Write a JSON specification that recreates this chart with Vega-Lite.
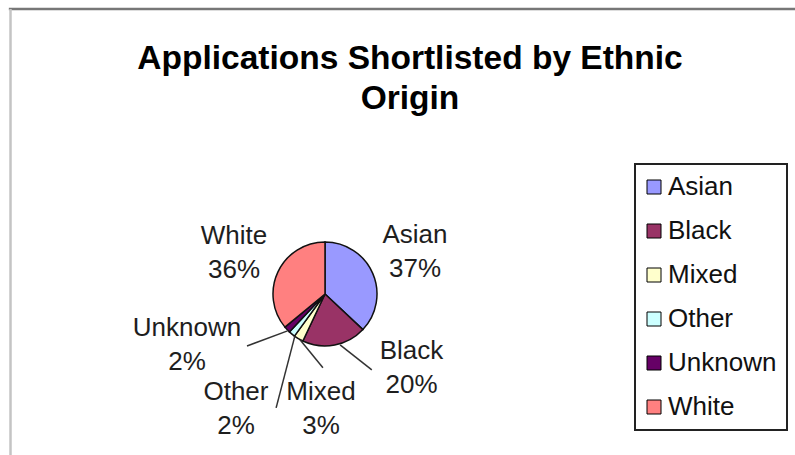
{
  "$schema": "https://vega.github.io/schema/vega-lite/v6.json",
  "autosize": "none",
  "width": 624,
  "height": 286,
  "padding": {"left": 13, "top": 151, "right": 158, "bottom": 18},
  "background": "white",
  "config": {"view": {"stroke": null}, "font": "Liberation Sans"},
  "title": {
    "text": ["Applications Shortlisted by Ethnic", "Origin"],
    "fontSize": 33.5,
    "fontWeight": "bold",
    "font": "Liberation Sans",
    "color": "#000000",
    "lineHeight": 40,
    "anchor": "middle",
    "frame": "group",
    "dx": 85,
    "offset": -109
  },
  "datasets": {
    "shares": [
      {"ethnicity": "Asian", "share": 37},
      {"ethnicity": "Black", "share": 20},
      {"ethnicity": "Mixed", "share": 3},
      {"ethnicity": "Other", "share": 2},
      {"ethnicity": "Unknown", "share": 2},
      {"ethnicity": "White", "share": 36}
    ],
    "labels": [
      {"ethnicity": "Asian", "lx": 1.731, "ly": 0.827},
      {"ethnicity": "Black", "lx": 1.663, "ly": -1.404},
      {"ethnicity": "Mixed", "lx": -0.077, "ly": -2.183},
      {"ethnicity": "Other", "lx": -1.712, "ly": -2.183},
      {"ethnicity": "Unknown", "lx": -2.654, "ly": -0.962},
      {"ethnicity": "White", "lx": -1.75, "ly": 0.808}
    ],
    "leaders": [
      {"ethnicity": "Black", "fromX": 0.29, "fromY": -0.98, "toX": 0.9, "toY": -1.46},
      {"ethnicity": "Mixed", "fromX": -0.48, "fromY": -0.88, "toX": -0.04, "toY": -1.42},
      {"ethnicity": "Other", "fromX": -0.58, "fromY": -0.81, "toX": -0.94, "toY": -2.19},
      {"ethnicity": "Unknown", "fromX": -0.72, "fromY": -0.71, "toX": -1.5, "toY": -1.0}
    ],
    "frameTop": [{"ax": -6.08, "ay": 5.481, "bx": 9.1, "by": 5.481}],
    "frameLeft": [{"ax": -6.048, "ay": 5.481, "bx": -6.048, "by": -3.2}]
  },
  "layer": [
    {
      "data": {"name": "shares"},
      "mark": {"type": "arc", "outerRadius": 52, "stroke": "#111111", "strokeWidth": 1.5},
      "encoding": {
        "theta": {"field": "share", "type": "quantitative", "stack": true},
        "order": {"field": "ethnicity", "type": "nominal"},
        "color": {
          "field": "ethnicity",
          "type": "nominal",
          "scale": {
            "domain": ["Asian", "Black", "Mixed", "Other", "Unknown", "White"],
            "range": ["#9999FF", "#993366", "#FFFFCC", "#CCFFFF", "#660066", "#FF8080"]
          },
          "legend": {
            "orient": "none",
            "legendX": 622,
            "legendY": 13,
            "title": null,
            "strokeColor": "#222222",
            "fillColor": "#ffffff",
            "padding": 10,
            "symbolType": "square",
            "symbolSize": 196,
            "symbolOffset": -4,
            "symbolStrokeColor": "#000000",
            "symbolStrokeWidth": 1,
            "symbolOpacity": 1,
            "labelFont": "Liberation Sans",
            "labelFontSize": 26,
            "labelColor": "#111111",
            "labelOffset": 1,
            "rowPadding": 18,
            "encode": {"legend": {"update": {"strokeWidth": {"value": 2}}}}
          }
        }
      }
    },
    {
      "data": {"name": "leaders"},
      "mark": {"type": "rule", "color": "#333333", "strokeWidth": 1.5, "clip": false},
      "encoding": {
        "x": {"field": "fromX", "type": "quantitative", "scale": {"domain": [-6, 6], "nice": false, "zero": false}, "axis": null},
        "y": {"field": "fromY", "type": "quantitative", "scale": {"domain": [-2.75, 2.75], "nice": false, "zero": false}, "axis": null},
        "x2": {"field": "toX"},
        "y2": {"field": "toY"}
      }
    },
    {
      "data": {"name": "labels"},
      "transform": [
        {"lookup": "ethnicity", "from": {"data": {"name": "shares"}, "key": "ethnicity", "fields": ["share"]}},
        {"calculate": "[datum.ethnicity, datum.share + '%']", "as": "labelText"}
      ],
      "mark": {"type": "text", "fontSize": 26, "font": "Liberation Sans", "color": "#1e1e1e", "align": "center", "baseline": "middle", "lineHeight": 34, "dy": -16, "clip": false},
      "encoding": {
        "x": {"field": "lx", "type": "quantitative", "scale": {"domain": [-6, 6], "nice": false, "zero": false}, "axis": null},
        "y": {"field": "ly", "type": "quantitative", "scale": {"domain": [-2.75, 2.75], "nice": false, "zero": false}, "axis": null},
        "text": {"field": "labelText"}
      }
    },
    {
      "data": {"name": "frameTop"},
      "mark": {"type": "rule", "strokeWidth": 2.5, "color": "#777777", "clip": false},
      "encoding": {
        "x": {"field": "ax", "type": "quantitative", "scale": {"domain": [-6, 6], "nice": false, "zero": false}, "axis": null},
        "y": {"field": "ay", "type": "quantitative", "scale": {"domain": [-2.75, 2.75], "nice": false, "zero": false}, "axis": null},
        "x2": {"field": "bx"},
        "y2": {"field": "by"}
      }
    },
    {
      "data": {"name": "frameLeft"},
      "mark": {"type": "rule", "strokeWidth": 2.5, "color": "#c4c4c4", "clip": false},
      "encoding": {
        "x": {"field": "ax", "type": "quantitative", "scale": {"domain": [-6, 6], "nice": false, "zero": false}, "axis": null},
        "y": {"field": "ay", "type": "quantitative", "scale": {"domain": [-2.75, 2.75], "nice": false, "zero": false}, "axis": null},
        "x2": {"field": "bx"},
        "y2": {"field": "by"}
      }
    }
  ]
}
